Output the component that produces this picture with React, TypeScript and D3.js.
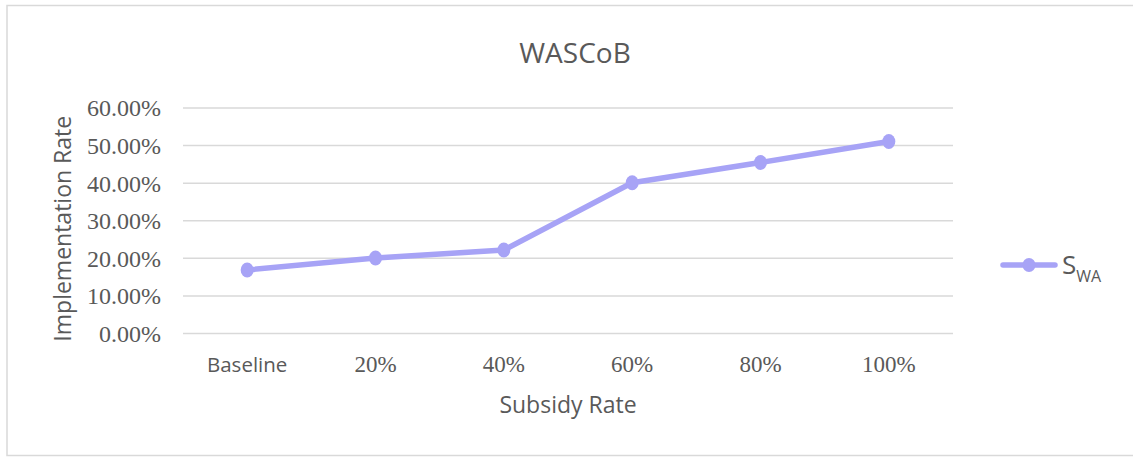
import React, { useEffect, useRef } from "react";
import * as d3 from "d3";

const categories = ["Baseline", "20%", "40%", "60%", "80%", "100%"];
const swaValues = [0.169, 0.201, 0.222, 0.401, 0.455, 0.511];
const yTicks = [0, 0.1, 0.2, 0.3, 0.4, 0.5, 0.6];

const WIDTH = 1133;
const HEIGHT = 457;
const LINE_COLOR = "#a7a3f6";
const TEXT_COLOR = "#595959";
const SANS = "'Open Sans', 'Noto Sans', sans-serif";
const SERIF = "'Liberation Serif', 'DejaVu Serif', serif";

const App = () => {
    const chartRef = useRef<SVGSVGElement | null>(null);

    useEffect(() => {
        const svg = d3.select(chartRef.current);
        svg.selectAll("*").remove();

        const margin = { top: 108, left: 183, right: 180, bottom: 123.5 };
        const innerWidth = WIDTH - margin.left - margin.right;
        const innerHeight = HEIGHT - margin.top - margin.bottom;

        // chart frame
        svg.append("rect")
            .attr("x", 7)
            .attr("y", 5.5)
            .attr("width", WIDTH)
            .attr("height", 450)
            .attr("fill", "#fff")
            .attr("stroke", "#d9d9d9")
            .attr("stroke-width", 1.5);

        const g = svg.append("g")
            .attr("transform", `translate(${margin.left},${margin.top})`);

        const x = d3.scaleBand()
            .domain(categories)
            .range([0, innerWidth]);

        const y = d3.scaleLinear()
            .domain([0, 0.6])
            .range([innerHeight, 0]);

        // gridlines
        g.selectAll(".grid")
            .data(yTicks)
            .enter()
            .append("line")
            .attr("x1", 0)
            .attr("x2", innerWidth)
            .attr("y1", d => y(d))
            .attr("y2", d => y(d))
            .attr("stroke", "#d9d9d9")
            .attr("stroke-width", 1.5);

        // y tick labels
        g.selectAll(".ytick")
            .data(yTicks)
            .enter()
            .append("text")
            .attr("x", -22)
            .attr("y", d => y(d))
            .attr("dy", "0.35em")
            .attr("text-anchor", "end")
            .style("font-family", SERIF)
            .style("font-size", "24px")
            .style("fill", TEXT_COLOR)
            .text(d => d3.format(".2%")(d));

        // x tick labels
        g.selectAll(".xtick")
            .data(categories)
            .enter()
            .append("text")
            .attr("x", d => (x(d) ?? 0) + x.bandwidth() / 2)
            .attr("y", innerHeight + 38)
            .attr("text-anchor", "middle")
            .style("font-family", (d, i) => (i === 0 ? SANS : SERIF))
            .style("font-size", (d, i) => (i === 0 ? "20.5px" : "23px"))
            .style("fill", TEXT_COLOR)
            .text(d => d);

        // line
        const line = d3.line<number>()
            .x((d, i) => (x(categories[i]) ?? 0) + x.bandwidth() / 2)
            .y(d => y(d));

        g.append("path")
            .datum(swaValues)
            .attr("d", line)
            .attr("fill", "none")
            .attr("stroke", LINE_COLOR)
            .attr("stroke-width", 5.5)
            .attr("stroke-linejoin", "round")
            .attr("stroke-linecap", "round");

        g.selectAll(".dot")
            .data(swaValues)
            .enter()
            .append("ellipse")
            .attr("cx", (d, i) => (x(categories[i]) ?? 0) + x.bandwidth() / 2)
            .attr("cy", d => y(d))
            .attr("rx", 6.5)
            .attr("ry", 7.5)
            .attr("fill", LINE_COLOR);

        // title
        svg.append("text")
            .attr("x", 575)
            .attr("y", 63)
            .attr("text-anchor", "middle")
            .style("font-family", SANS)
            .style("font-size", "28px")
            .style("fill", TEXT_COLOR)
            .text("WASCoB");

        // axis titles
        svg.append("text")
            .attr("x", margin.left + innerWidth / 2)
            .attr("y", 413)
            .attr("text-anchor", "middle")
            .style("font-family", SANS)
            .style("font-size", "23px")
            .style("fill", TEXT_COLOR)
            .text("Subsidy Rate");

        svg.append("text")
            .attr("transform", `translate(71,${margin.top + innerHeight / 2 + 8}) rotate(-90)`)
            .attr("text-anchor", "middle")
            .style("font-family", SANS)
            .style("font-size", "23px")
            .style("fill", TEXT_COLOR)
            .text("Implementation Rate");

        // legend
        const legend = svg.append("g").attr("transform", "translate(1003,265)");
        legend.append("line")
            .attr("x1", 0)
            .attr("x2", 52)
            .attr("stroke", LINE_COLOR)
            .attr("stroke-width", 5.5)
            .attr("stroke-linecap", "round");
        legend.append("ellipse")
            .attr("cx", 26)
            .attr("rx", 6.5)
            .attr("ry", 7)
            .attr("fill", LINE_COLOR);
        const label = legend.append("text")
            .attr("x", 59)
            .attr("y", 9)
            .style("font-family", SANS)
            .style("font-size", "26px")
            .style("fill", TEXT_COLOR);
        label.append("tspan").text("S");
        label.append("tspan")
            .attr("dy", 8)
            .style("font-size", "16px")
            .text("WA");
    }, []);

    return (
        <svg
            ref={chartRef}
            width={WIDTH}
            height={HEIGHT}
            style={{ position: "absolute", left: 0, top: 0 }}
        />
    );
};

export default App;
